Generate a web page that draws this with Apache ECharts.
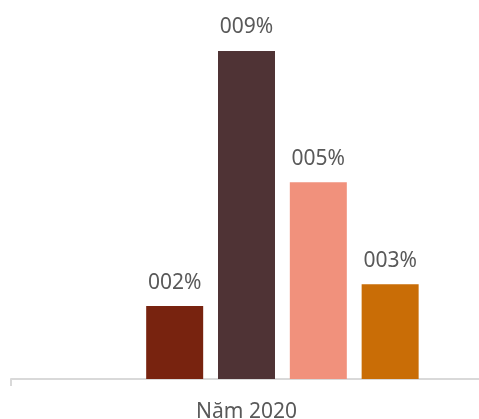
<!DOCTYPE html>
<html>
<head>
<meta charset="utf-8">
<script src="https://cdn.jsdelivr.net/npm/echarts@6/dist/echarts.min.js"></script>
<style>
  html, body { margin: 0; padding: 0; background: #fff; }
  #chart { width: 479px; height: 419px; }
</style>
</head>
<body>
<div id="chart"></div>
<script>
const categories = ["Năm 2020"];
const seriesNames = ["", "A", "B", "C", "D"];
const seriesValues = [[null], [0.02], [0.09], [0.054], [0.026]];
const colors = ["#ffffff", "#78230F", "#4F3335", "#F1917C", "#C96D06"];

const chart = echarts.init(document.getElementById("chart"));

const fmt = (v) => String(Math.round(v * 100)).padStart(3, "0") + "%";

chart.setOption({
  animation: false,
  grid: { left: 11, width: 471, top: 51, bottom: 40, outerBoundsMode: "none" },
  xAxis: {
    type: "category",
    data: categories,
    axisLine: { lineStyle: { color: "#D9D9D9", width: 2 } },
    axisTick: { show: true, length: 7, lineStyle: { color: "#D9D9D9", width: 2 } },
    axisLabel: {
      color: "#595959",
      fontFamily: "Noto Sans",
      fontSize: 21,
      margin: 23,
    },
  },
  yAxis: {
    type: "value",
    min: 0,
    max: 0.09,
    show: false,
    splitLine: { show: false },
  },
  series: seriesValues.map((vals, i) => ({
    name: seriesNames[i],
    type: "bar",
    data: vals,
    barWidth: 57,
    barGap: "26%",
    itemStyle: { color: colors[i] },
    label: {
      show: true,
      position: "top",
      distance: 13,
      color: "#595959",
      fontFamily: "Noto Sans",
      fontSize: 21,
      formatter: (p) => fmt(p.value),
    },
  })),
});
</script>
</body>
</html>
